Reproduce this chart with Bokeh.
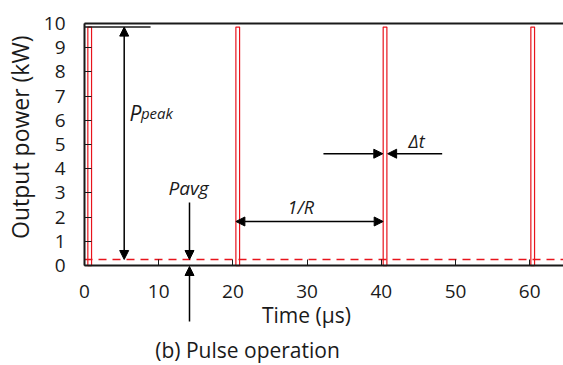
from bokeh.plotting import figure
from bokeh.models import Range1d, Arrow, NormalHead, Label, LinearAxis, FixedTicker
from bokeh.embed import file_html
from bokeh.resources import INLINE

# ---- data ----
time_ticks = [0, 10, 20, 30, 40, 50, 60]
power_ticks = [0, 1, 2, 3, 4, 5, 6, 7, 8, 9, 10]
pulse_start = [0.45, 20.4, 40.25, 60.15]   # µs
pulse_end = [0.95, 20.9, 40.75, 60.65]     # µs
p_peak = 9.85   # kW
p_avg = 0.25    # kW
peak_marker_end = 8.9   # µs, end of the short peak level line
t_max = 64.55   # µs, right end of the time axis
p_max = 10      # kW, top of the power axis

FONT = "Open Sans"
RED = "#e8141c"
INK = "#1a1a1a"

# frame covers the whole canvas; axes sit at fixed data locations
p = figure(width=563, height=365,
           x_range=Range1d(-11.32, t_max), y_range=Range1d(-4.13, 10.95),
           output_backend="svg", toolbar_location=None,
           min_border_left=0, min_border_right=0,
           min_border_top=0, min_border_bottom=0)

p.outline_line_color = None
p.xgrid.visible = False
p.ygrid.visible = False
p.background_fill_color = "white"
p.border_fill_color = "white"

p.xaxis.fixed_location = 0
p.yaxis.fixed_location = 0
p.xaxis.bounds = (0, t_max)
p.yaxis.bounds = (0, p_max)

for ax in (p.xaxis[0], p.yaxis[0]):
    ax.axis_line_width = 2
    ax.axis_line_color = INK
    ax.major_tick_line_color = INK
    ax.major_tick_line_width = 1
    ax.minor_tick_line_color = None
    ax.major_tick_out = 0
    ax.major_label_text_font = FONT
    ax.major_label_text_font_size = "19px"
    ax.major_label_text_color = INK
p.xaxis.ticker = time_ticks
p.yaxis.ticker = power_ticks
p.xaxis.major_tick_in = 6
p.yaxis.major_tick_in = 7
p.xaxis.major_label_standoff = 19
p.yaxis.major_label_standoff = 19

# top frame line (an axis with no ticks)
top = LinearAxis(fixed_location=p_max, bounds=(0, t_max), axis_line_width=2,
                 axis_line_color=INK, ticker=FixedTicker(ticks=[]),
                 major_tick_line_color=None, minor_tick_line_color=None)
p.add_layout(top, "above")

# pulses
p.quad(left=pulse_start, right=pulse_end, bottom=0, top=p_peak,
       fill_color="white", line_color=RED, line_width=1.2)

# average power level
p.line([0, t_max], [p_avg, p_avg], line_color=RED, line_dash="8 6", line_width=1.5)
# peak level marker
p.line([0, peak_marker_end], [p_peak, p_peak], line_color=INK, line_width=1.5)


def head():
    return NormalHead(size=9, fill_color="black", line_color="black", line_width=1)


def arrow(x0, y0, x1, y1, both=False):
    p.add_layout(Arrow(x_start=x0, y_start=y0, x_end=x1, y_end=y1,
                       start=head() if both else None, end=head(),
                       line_color="black", line_width=1.5))


# P_peak
arrow(5.35, p_avg, 5.35, p_peak, both=True)
# P_avg
arrow(14.15, 2.6, 14.15, p_avg)
arrow(14.15, -2.31, 14.15, -0.04)
# 1/R
arrow(pulse_start[1], 1.82, pulse_start[2], 1.82, both=True)
# delta t
arrow(32.2, 4.62, pulse_start[2] - 0.05, 4.62)
arrow(48.2, 4.62, pulse_end[2] + 0.1, 4.62)

DY = 0.33   # baseline correction (≈8 px)


def label(x, y, text, size, italic=True, **kw):
    p.add_layout(Label(x=x, y=y + DY, text=text, text_font=FONT,
                       text_font_size=size, text_color=INK,
                       text_font_style="italic" if italic else "normal",
                       text_baseline=kw.pop("baseline", "alphabetic"),
                       text_align=kw.pop("align", "left"), **kw))


label(6.06, 5.99, "P", "21px")
label(7.6, 5.99, "peak", "15px")
label(11.32, 2.89, "Pavg", "19px")
label(27.36, 2.07, "1/R", "18px")
label(43.67, 4.83, "Δt", "18px")

label(29.9, -2.36, "Time (μs)", "21px", italic=False, align="center")
label(21.97, -3.84, "(b) Pulse operation", "21px", italic=False, align="center")
p.add_layout(Label(x=-8.63, y=5.3, text="Output power (kW)", text_font=FONT,
                   text_font_size="23px", text_color=INK,
                   text_baseline="alphabetic", text_align="center",
                   angle=1.5707963))

open("out.html", "w").write(file_html(p, INLINE))
